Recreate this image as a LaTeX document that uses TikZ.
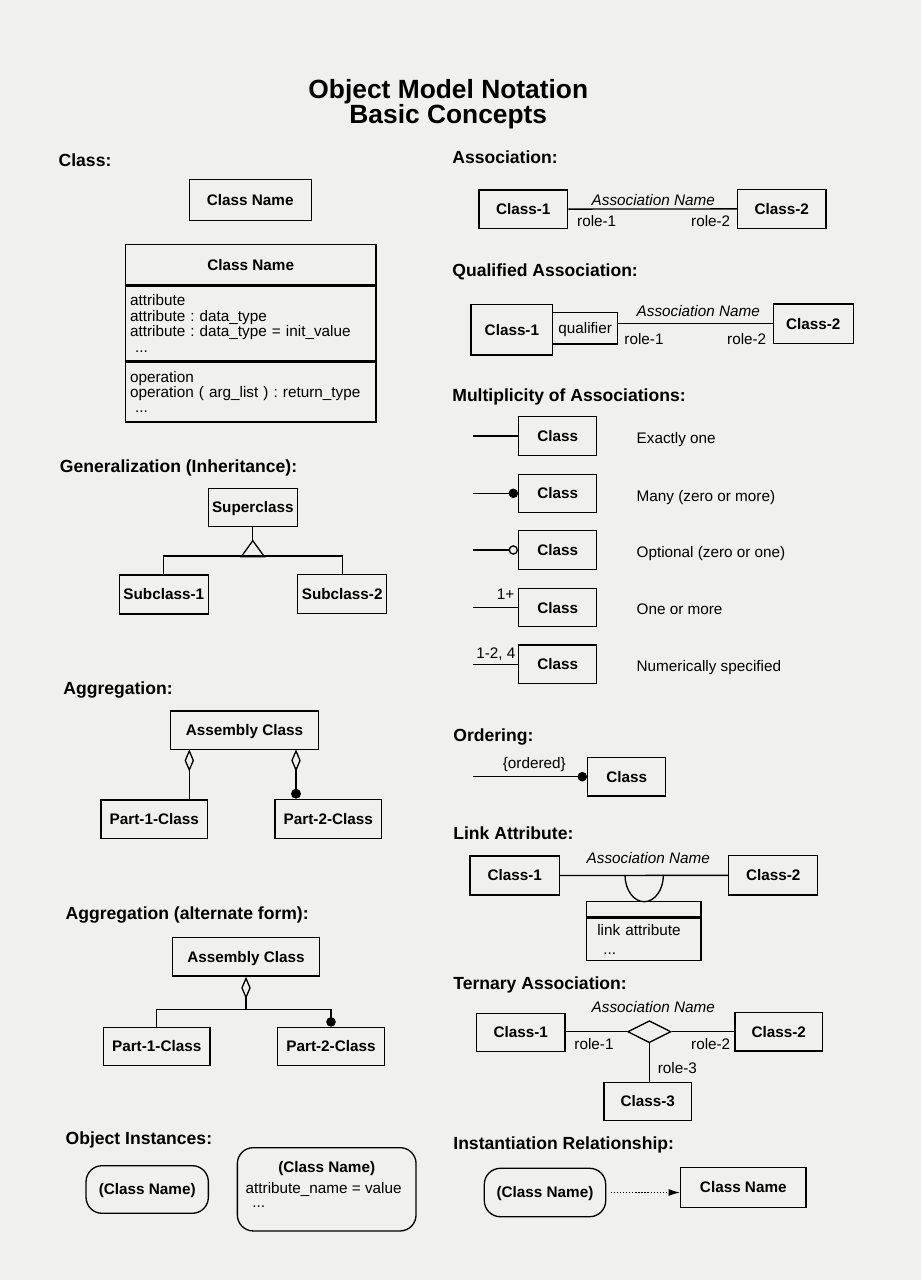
\documentclass[tikz,border=0pt]{standalone}
\usepackage{fontspec}
\setmainfont{Liberation Sans}
\usetikzlibrary{arrows.meta,shapes.geometric}
\definecolor{paper}{RGB}{240,240,238}
\newcommand\omttitle{\fontsize{15}{18}\selectfont\bfseries}
\newcommand\omthead{\fontsize{10}{12}\selectfont\bfseries}
\newcommand\omtlabel{\fontsize{8.7}{10}\selectfont\bfseries}
\newcommand\omtbody{\fontsize{8.7}{8.8}\selectfont\frenchspacing}

\begin{document}
\begin{tikzpicture}[x=0.02cm, y=-0.02cm, line width=0.75pt,
		wh/.style 2 args={minimum width=#1*0.02cm, minimum height=#2*0.02cm},
		cls/.style={draw, font=\omtlabel, inner sep=0pt, text height=6.2pt, text depth=0pt},
		obj/.style={cls, rounded corners=0.32cm},
		head/.style={anchor=west, font=\omthead, inner sep=0pt, text height=7.2pt, text depth=0pt},
		lbl/.style={font=\omtbody, inner sep=0pt, text height=6.2pt, text depth=0pt},
		italbl/.style={lbl, font=\omtbody\itshape},
		titl/.style={font=\omttitle, inner sep=0pt, text height=10.8pt, text depth=0pt},
		compart/.style={draw, font=\omtbody, align=left, inner ysep=0pt},
		aggline/.style={{Diamond[open,length=12.7pt,width=5.4pt]}-},
		aggmany/.style={{Diamond[open,length=12.7pt,width=5.4pt]}-{Circle[length=5.6pt]}},
		manydot/.style={-{Circle[length=5.4pt]}},
		optdot/.style={-{Circle[open,length=5.4pt]}}]
			%%%%% START %%%%%
			
			\fill[paper] (0,0) rectangle (921,1280);
			\useasboundingbox (0,0) rectangle (921,1280);
			
			\node[titl] (titleA) at (448.3,89.5) {Object Model Notation};
			\node[titl] (titleB) at (448.3,113.8) {Basic Concepts};
			
			% class
			\node[head] (clsHead) at (58,160) {Class:};
			\node[cls, wh={122}{41}] (clsName) at (250.2,200) {Class Name};
			\node[cls, wh={250.7}{40.7}] (clsTop) at (250.7,264.7) {Class Name};
			\node[compart, anchor=north, text width=4.826cm, inner xsep=0.094cm, minimum height=74.3*0.02cm] (clsAttr) at (clsTop.south) {attribute\\attribute : data\_type\\attribute : data\_type = init\_value\\\hspace*{0.1cm}...};
			\node[compart, anchor=north, text width=4.826cm, inner xsep=0.094cm, minimum height=60*0.02cm] (clsOps) at (clsAttr.south) {operation\\operation ( arg\_list ) : return\_type\\\hspace*{0.1cm}...};
			
			% generalization
			\node[head] (genHead) at (59.3,466) {Generalization (Inheritance):};
			\node[cls, wh={89}{38.4}] (superCls) at (252.8,507.5) {Superclass};
			\node[cls, wh={89}{39}] (subCls1) at (163.8,594.5) {Subclass-1};
			\node[cls, wh={89}{39}] (subCls2) at (342.2,593.8) {Subclass-2};
			\draw (superCls.south) -- ++(0,13.3) coordinate (genTip);
			\draw (genTip) -- ++(-11.5,16) -- ++(23,0) -- cycle;
			\coordinate (genBar) at (252.3,556);
			\draw (subCls1.north) |- (genBar) -| (subCls2.north);
			
			% aggregation
			\node[head] (aggHead) at (62.7,688.3) {Aggregation:};
			\node[cls, wh={147.6}{38.3}] (asmCls) at (244.5,730.2) {Assembly Class};
			\node[cls, wh={106.7}{38.3}] (partCls1) at (154.3,819.2) {Part-1-Class};
			\node[cls, wh={106.7}{39}] (partCls2) at (328.3,818.8) {Part-2-Class};
			\coordinate (aggL) at (189.3,749.3);
			\coordinate (aggR) at (296,749.3);
			\draw[aggline] (aggL) -- (aggL |- partCls1.north);
			\draw[aggmany] (aggR) -- (aggR |- partCls2.north);
			
			% aggregation, alternate form
			\node[head] (altHead) at (65,912.7) {Aggregation (alternate form):};
			\node[cls, wh={146.6}{38.7}] (asmAlt) at (246,956.7) {Assembly Class};
			\node[cls, wh={106.7}{38.4}] (partAlt1) at (156.7,1046.5) {Part-1-Class};
			\node[cls, wh={106.6}{38.4}] (partAlt2) at (331,1046.5) {Part-2-Class};
			\draw[aggline] (asmAlt.south) -- ++(0,33) coordinate (altBar);
			\draw (altBar) -| (partAlt1.north);
			\draw[manydot] (altBar) -| (partAlt2.north);
			
			% object instances
			\node[head] (objHead) at (65,1138.3) {Object Instances:};
			\node[obj, wh={122.3}{47.6}] (objSimple) at (147.2,1189.5) {(Class Name)};
			\node[obj, wh={178.7}{83.3}] (objFull) at (326.7,1189.3) {};
			\node[lbl, font=\omtlabel] (objFullName) at (326.7,1166.7) {(Class Name)};
			\node[lbl, anchor=west] (objFullAttr) at (245,1188.3) {attribute\_name = value};
			\node[lbl, anchor=base west] (objFullDots) at (251.7,1207.3) {...};
			
			% association
			\node[head] (assocHead) at (451.7,156.7) {Association:};
			\node[cls, wh={88.7}{38.3}] (assocCls1) at (523.3,209.2) {Class-1};
			\node[cls, wh={88.3}{39}] (assocCls2) at (781.8,208.8) {Class-2};
			\draw (assocCls1) -- (assocCls2);
			\node[italbl] (assocName) at (653.3,200) {Association Name};
			\node[lbl] (assocRole1) at (596.7,221) {role-1};
			\node[lbl] (assocRole2) at (710.7,221) {role-2};
			
			% qualified association
			\node[head] (qualHead) at (451.7,270) {Qualified Association:};
			\node[cls, wh={81.7}{50.7}] (qualCls1) at (511.9,329.7) {Class-1};
			\node[draw, lbl, wh={65}{31.7}] (qualBox) at (585.2,328.2) {qualifier};
			\node[cls, wh={80}{39.3}] (qualCls2) at (813.3,323.7) {Class-2};
			\draw (qualCls2.west -| qualBox.east) -- (qualCls2.west);
			\node[italbl] (qualName) at (698.3,310.7) {Association Name};
			\node[lbl] (qualRole1) at (644,339) {role-1};
			\node[lbl] (qualRole2) at (746.7,339) {role-2};
			
			% multiplicity
			\node[head] (multHead) at (451.7,395) {Multiplicity of Associations:};
			\node[cls, wh={78}{38.6}] (mult1) at (557.7,436) {Class};
			\node[cls, wh={78}{38}] (mult2) at (557.7,493.3) {Class};
			\node[cls, wh={78}{38.6}] (mult3) at (557.7,550) {Class};
			\node[cls, wh={78}{38}] (mult4) at (557.7,607.7) {Class};
			\node[cls, wh={78}{38.3}] (mult5) at (557.7,664.2) {Class};
			\coordinate (multEnd1) at (473.3,436);
			\coordinate (multEnd2) at (473.3,493.3);
			\coordinate (multEnd3) at (473.3,550);
			\coordinate (multEnd4) at (473.3,607.7);
			\coordinate (multEnd5) at (473.3,664.2);
			\draw (multEnd1) -- (mult1.west);
			\draw[manydot] (multEnd2) -- (mult2.west);
			\draw[optdot] (multEnd3) -- (mult3.west);
			\draw (multEnd4) -- (mult4.west);
			\draw (multEnd5) -- (mult5.west);
			\node[lbl, anchor=east] (multLbl4) at (515,594.3) {1+};
			\node[lbl, anchor=east] (multLbl5) at (516,652.7) {1-2, 4};
			\node[lbl, anchor=west] (multTxt1) at (636,438.3) {Exactly one};
			\node[lbl, anchor=west] (multTxt2) at (636,495.7) {Many (zero or more)};
			\node[lbl, anchor=west] (multTxt3) at (636,552.3) {Optional (zero or one)};
			\node[lbl, anchor=west] (multTxt4) at (636,609.3) {One or more};
			\node[lbl, anchor=west] (multTxt5) at (636,665.7) {Numerically specified};
			
			% ordering
			\node[head] (ordHead) at (452.7,735) {Ordering:};
			\node[cls, wh={78}{38.7}] (ordCls) at (626.7,776.7) {Class};
			\coordinate (ordEnd) at (473.3,776.7);
			\draw[manydot] (ordEnd) -- (ordCls.west);
			\node[lbl] (ordLbl) at (534.3,763.3) {\{ordered\}};
			
			% link attribute
			\node[head] (linkHead) at (452.7,833.3) {Link Attribute:};
			\node[cls, wh={89.3}{39}] (linkCls1) at (514.7,875.5) {Class-1};
			\node[cls, wh={89}{39.3}] (linkCls2) at (773.2,875.3) {Class-2};
			\draw (linkCls1) -- (linkCls2);
			\node[italbl] (linkName) at (648.3,858.3) {Association Name};
			\coordinate (linkArc) at (625,875);
			\draw (linkArc) arc (180:360:0.384cm and 0.534cm);
			\node[draw, inner sep=0pt, wh={114.3}{15}] (linkTop) at (643.8,909.2) {};
			\node[compart, anchor=north, text width=1.862cm, inner xsep=0.212cm, minimum height=42.6*0.02cm] (linkAttr) at (linkTop.south) {link attribute\\[2pt]\hspace*{0.12cm}...};
			
			% ternary association
			\node[head] (ternHead) at (452.7,983.3) {Ternary Association:};
			\node[italbl] (ternName) at (653.3,1006.7) {Association Name};
			\node[cls, wh={88.3}{38.4}] (ternCls1) at (520.8,1032.5) {Class-1};
			\node[cls, wh={87.7}{38.7}] (ternCls2) at (778.8,1031.7) {Class-2};
			\node[draw, diamond, inner sep=0pt, wh={43.3}{22}] (ternDia) at (649.3,1031.7) {};
			\node[cls, wh={87.7}{38.4}] (ternCls3) at (647.8,1101.5) {Class-3};
			\draw (ternDia.west) -- (ternDia.west -| ternCls1.east);
			\draw (ternDia.east) -- (ternDia.east -| ternCls2.west);
			\draw (ternDia.south) -- (ternDia.south |- ternCls3.north);
			\node[lbl] (ternRole1) at (594,1044) {role-1};
			\node[lbl] (ternRole2) at (710.7,1044) {role-2};
			\node[lbl] (ternRole3) at (677.3,1067.7) {role-3};
			
			% instantiation
			\node[head] (instHead) at (452.7,1142.7) {Instantiation Relationship:};
			\node[obj, wh={121.4}{48.4}] (instObj) at (545,1192.5) {(Class Name)};
			\node[cls, wh={125.3}{40}] (instCls) at (743.3,1187.3) {Class Name};
			\draw[densely dotted, -{Latex[length=6.5pt,width=4pt]}, shorten <=2.4pt] (instObj.east) -- (instObj.east -| instCls.west);
			
			%%%%% END %%%%%
\end{tikzpicture}
\end{document}
